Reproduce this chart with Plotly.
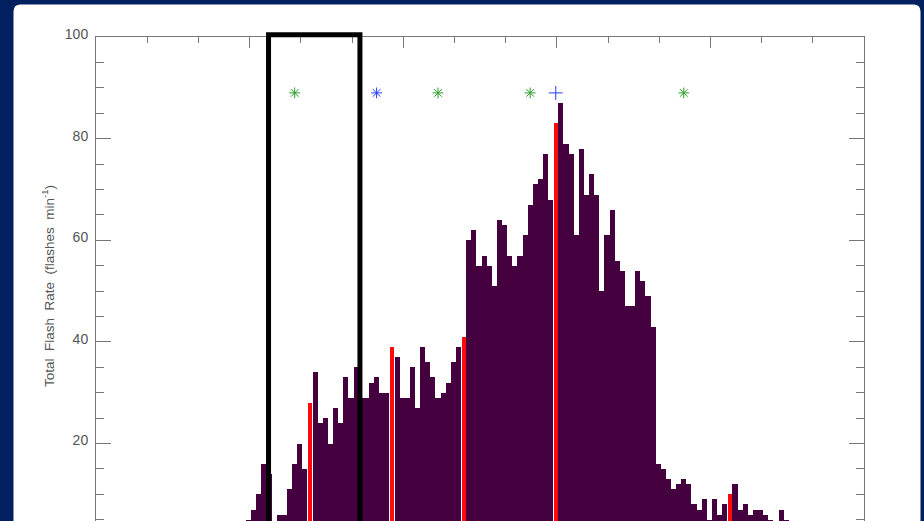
import plotly.graph_objects as go

# ---------------- data ----------------
minutes = list(range(29, 135))
flash_rate = [
    5, 7, 10, 16, 14, 3, 6, 6, 11, 16,          # 29-38
    20, 15, 28, 34, 24, 25, 20, 27, 24, 33,     # 39-48
    29, 35, 29, 29, 32, 33, 30, 30, 39, 37,     # 49-58
    29, 29, 35, 27, 39, 36, 33, 29, 30, 32,     # 59-68
    36, 39, 41, 60, 62, 55, 57, 55, 51, 64,     # 69-78
    63, 57, 55, 57, 61, 67, 71, 72, 77, 68,     # 79-88
    83, 87, 79, 77, 61, 78, 69, 73, 69, 50,     # 89-98
    61, 66, 56, 54, 47, 47, 54, 52, 49, 43,     # 99-108
    16, 15, 13, 11, 12, 13, 12, 8, 7, 9,        # 109-118
    5, 9, 6, 8, 10, 12, 7, 8, 6, 7,             # 119-128
    7, 6, 5, 4, 7, 5,                           # 129-134
]
red_bins = [41, 57, 71, 89, 123]
green_star_bins = [38, 66, 84, 114]
blue_star_bins = [54]
blue_plus_bins = [89]
marker_level = 89
window = [32.9, 50.75]          # black analysis window (x extent)
y_ticks = [20, 40, 60, 80, 100]

# ---------------- layout constants ----------------
W, H = 924, 521
ML, MR, MT, MB = 96, 60, 37, 0
X_RANGE = [-0.8, 149.2]
Y_RANGE = [4.75, 100]
NAVY = "#02205f"
PURPLE = "#44003f"
AXIS = "#777777"
GREEN = "#2ca02c"
BLUE = "#2a3cff"
FONT = "Liberation Sans, Arial, sans-serif"

pw, ph = W - ML - MR, H - MT - MB


def paper(px, py):
    return (px - ML) / pw, (H - MB - py) / ph


rate_of = dict(zip(minutes, flash_rate))
purple_y = [None if m in red_bins else v for m, v in zip(minutes, flash_rate)]
red_y = [rate_of[m] for m in red_bins]

fig = go.Figure()
fig.add_trace(go.Bar(x=minutes, y=purple_y, width=1.0,
                     marker=dict(color=PURPLE, line=dict(width=0)),
                     showlegend=False, hoverinfo="skip"))
fig.add_trace(go.Bar(x=red_bins, y=red_y, width=0.8,
                     marker=dict(color="#ff0a0a", line=dict(width=0)),
                     showlegend=False, hoverinfo="skip"))
for xs, sym, col, size in [
    (green_star_bins, "asterisk-open", GREEN, 9),
    (blue_star_bins, "asterisk-open", BLUE, 9),
    (blue_plus_bins, "cross-thin-open", BLUE, 10),
]:
    fig.add_trace(go.Scatter(
        x=xs, y=[marker_level] * len(xs), mode="markers",
        marker=dict(symbol=sym, size=size, color=col,
                    line=dict(color=col, width=1)),
        showlegend=False, hoverinfo="skip"))

# white rounded panel
L, R, T, B, r = 13.5, 920.5, 4.5, 540, 7
pts = {
    "a": paper(L, B), "b": paper(L, T + r), "c": paper(L, T), "d": paper(L + r, T),
    "e": paper(R - r, T), "f": paper(R, T), "g": paper(R, T + r), "h": paper(R, B),
}
p = lambda k: f"{pts[k][0]:.5f},{pts[k][1]:.5f}"
path = (f"M {p('a')} L {p('b')} Q {p('c')} {p('d')} L {p('e')} "
        f"Q {p('f')} {p('g')} L {p('h')} Z")
shapes = [dict(type="path", xref="paper", yref="paper", path=path,
               fillcolor="white", line=dict(width=0), layer="below")]

# black window rectangle (top edge slightly above plot top)
top_y = paper(0, 34.8)[1]
shapes.append(dict(type="rect", xref="x", yref="paper",
                   x0=window[0], x1=window[1], y0=-0.2, y1=top_y,
                   line=dict(color="black", width=5), fillcolor="rgba(0,0,0,0)",
                   layer="above"))

sp = "\u00a0"
title = f"Total{sp*2}Flash{sp*2}Rate{sp*2}(flashes{sp*2}min<sup>-1</sup>)"

fig.update_layout(
    width=W, height=H,
    margin=dict(l=ML, r=MR, t=MT, b=MB, pad=0),
    paper_bgcolor=NAVY, plot_bgcolor="white",
    barmode="overlay", bargap=0,
    shapes=shapes,
    font=dict(family=FONT, color="#555555", size=14),
    annotations=[dict(
        text=title,
        xref="paper", yref="paper",
        x=paper(48, 0)[0], y=paper(0, 286)[1], xanchor="center", yanchor="middle",
        textangle=-90, showarrow=False,
        font=dict(family=FONT, size=13.5, color="#555555"))],
)

fig.update_xaxes(
    range=X_RANGE, side="top", showline=True, linecolor=AXIS, linewidth=1,
    mirror=False, showgrid=False, zeroline=False, showticklabels=False,
    ticks="inside", tick0=X_RANGE[0], dtick=30, ticklen=11, tickcolor=AXIS,
    minor=dict(ticks="inside", dtick=10, tick0=X_RANGE[0], ticklen=6,
               tickcolor=AXIS, showgrid=False),
)
fig.update_yaxes(
    range=Y_RANGE, showline=True, linecolor=AXIS, linewidth=1,
    mirror="allticks", showgrid=False, zeroline=False,
    tickmode="array", tickvals=y_ticks, ticktext=[str(v) for v in y_ticks],
    ticks="inside", ticklen=15, tickcolor=AXIS,
    ticklabelstandoff=4, ticklabelshift=-3,
    tickfont=dict(family=FONT, size=14, color="#555555"),
    minor=dict(ticks="inside", dtick=5, tick0=0, ticklen=8,
               tickcolor=AXIS, showgrid=False),
)

fig.write_html(
    "out.html",
    config={"displayModeBar": False},
    post_script=(
        "document.body.style.margin='0';"
        "document.body.style.background='" + NAVY + "';"
        "document.documentElement.style.overflow='hidden';"
    ),
)
